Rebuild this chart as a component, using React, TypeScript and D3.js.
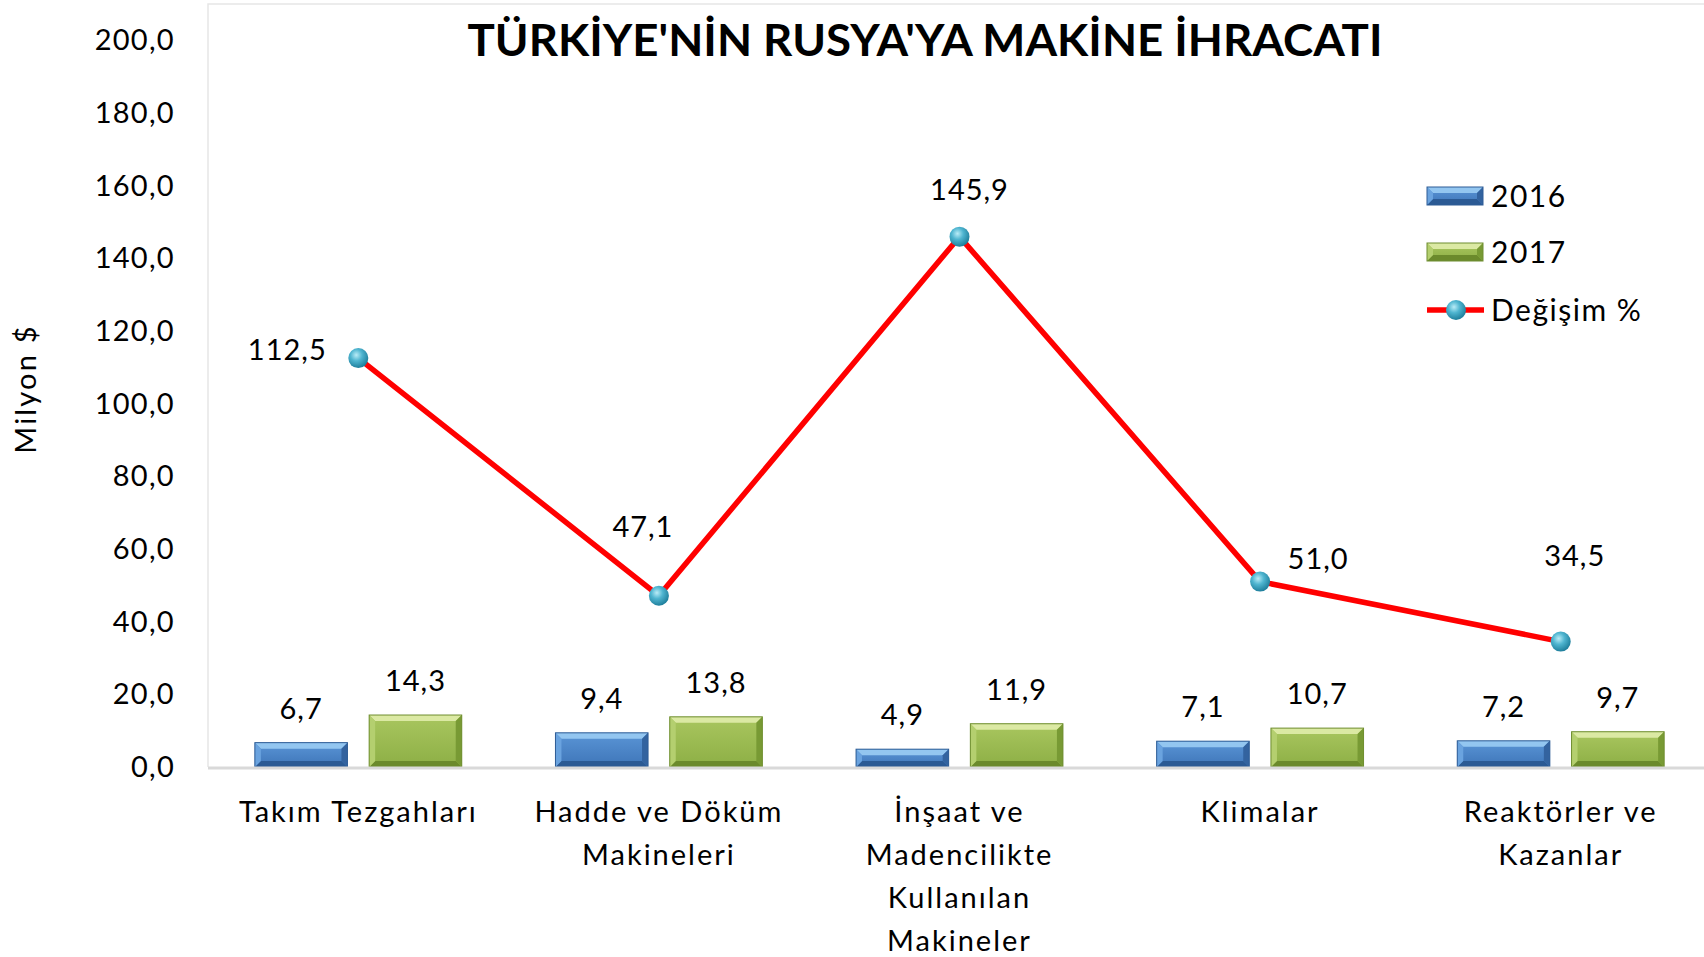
import { useEffect, useRef } from 'react';
import * as d3 from 'd3';

const categories = ['Takım Tezgahları', 'Hadde ve Döküm Makineleri', 'İnşaat ve Madencilikte Kullanılan Makineler', 'Klimalar', 'Reaktörler ve Kazanlar'];
const categoryLines = [
  ['Takım Tezgahları'],
  ['Hadde ve Döküm', 'Makineleri'],
  ['İnşaat ve', 'Madencilikte', 'Kullanılan', 'Makineler'],
  ['Klimalar'],
  ['Reaktörler ve', 'Kazanlar'],
];
const series = ['2016', '2017'];
const values2016 = [6.7, 9.4, 4.9, 7.1, 7.2];
const values2017 = [14.3, 13.8, 11.9, 10.7, 9.7];
const changePct = [112.5, 47.1, 145.9, 51.0, 34.5];
const yTicks = [0, 20, 40, 60, 80, 100, 120, 140, 160, 180, 200];

// label nudges for the line values (px from the point)
const lineLabelOffsets = [[-71, -8], [-16, -69], [10, -47], [58, -23], [14, -86]];

const W = 1704;
const H = 957;
const FONT = 'Lato, "Open Sans", sans-serif';
const fmt = (v: number) => v.toFixed(1).replace('.', ',');

const palette: Record<string, { face: [string, string]; top: string; bottom: string; left: string; right: string; stroke: string }> = {
  '2016': { face: ['#5a95d6', '#3e75b8'], top: '#93c6f0', bottom: '#2b5a94', left: '#6aa3df', right: '#33639f', stroke: '#2e5d96' },
  '2017': { face: ['#a9c65f', '#8daf45'], top: '#dbe9a3', bottom: '#6b8a2c', left: '#b4cf6f', right: '#789a34', stroke: '#6f8e30' },
};

const App = () => {
  const svgRef = useRef<SVGSVGElement | null>(null);

  useEffect(() => {
    document.body.style.margin = '0';
    const svg = d3.select(svgRef.current);
    svg.selectAll('*').remove();

    const left = 208;
    const right = left + 5 * 300.6;
    const bottom = 767;
    const top = 40;

    const x = d3.scaleBand<string>().domain(categories).range([left, right]).padding(0);
    const xs = d3.scaleBand<string>().domain(series).range([0, x.bandwidth()]).paddingInner(0.19).paddingOuter(0.41);
    const y = d3.scaleLinear().domain([0, 200]).range([bottom, top]);

    const defs = svg.append('defs');
    series.forEach(s => {
      const g = defs.append('linearGradient').attr('id', `face${s}`).attr('x1', 0).attr('y1', 0).attr('x2', 0).attr('y2', 1);
      g.append('stop').attr('offset', '0%').attr('stop-color', palette[s].face[0]);
      g.append('stop').attr('offset', '100%').attr('stop-color', palette[s].face[1]);
    });
    const rg = defs.append('radialGradient').attr('id', 'marker').attr('cx', '40%').attr('cy', '35%').attr('r', '65%');
    rg.append('stop').attr('offset', '0%').attr('stop-color', '#b9ecf7');
    rg.append('stop').attr('offset', '45%').attr('stop-color', '#4fb5d0');
    rg.append('stop').attr('offset', '100%').attr('stop-color', '#1f7f9c');

    // plot area frame
    svg.append('path')
      .attr('d', `M${left},${bottom}V4H${W}`)
      .attr('fill', 'none').attr('stroke', '#e6e6e6').attr('stroke-width', 1.5);

    // y axis labels
    svg.append('g').selectAll('text').data(yTicks).enter().append('text')
      .attr('x', 175).attr('y', d => y(d)).attr('dy', '0.35em')
      .attr('text-anchor', 'end').attr('font-family', FONT).attr('font-size', 29).attr('letter-spacing', 1.3).attr('fill', '#000')
      .text(d => fmt(d));

    svg.append('text')
      .attr('transform', `translate(36,389) rotate(-90)`)
      .attr('text-anchor', 'middle').attr('font-family', FONT).attr('font-size', 29).attr('letter-spacing', 2.2).attr('fill', '#000')
      .text('Milyon $');

    // bevelled bars
    const drawBar = (g: any, bx: number, by: number, bw: number, bh: number, s: string) => {
      const p = palette[s];
      const b = Math.min(6, bh / 3);
      g.append('rect').attr('x', bx).attr('y', by).attr('width', bw).attr('height', bh).attr('fill', `url(#face${s})`);
      const poly = (pts: number[][], fill: string) =>
        g.append('polygon').attr('points', pts.map(q => q.join(',')).join(' ')).attr('fill', fill);
      poly([[bx, by], [bx + bw, by], [bx + bw - b, by + b], [bx + b, by + b]], p.top);
      poly([[bx, by + bh], [bx + bw, by + bh], [bx + bw - b, by + bh - b], [bx + b, by + bh - b]], p.bottom);
      poly([[bx, by], [bx + b, by + b], [bx + b, by + bh - b], [bx, by + bh]], p.left);
      poly([[bx + bw, by], [bx + bw - b, by + b], [bx + bw - b, by + bh - b], [bx + bw, by + bh]], p.right);
      g.append('rect').attr('x', bx).attr('y', by).attr('width', bw).attr('height', bh)
        .attr('fill', 'none').attr('stroke', p.stroke).attr('stroke-width', 1);
    };

    const barsG = svg.append('g');
    const allBars = [values2016, values2017];
    categories.forEach((c, i) => {
      series.forEach((s, j) => {
        const v = allBars[j][i];
        const bx = (x(c) as number) + (xs(s) as number);
        drawBar(barsG, bx, y(v), xs.bandwidth(), bottom - y(v), s);
        barsG.append('text')
          .attr('x', bx + xs.bandwidth() / 2).attr('y', y(v) - 24)
          .attr('text-anchor', 'middle').attr('font-family', FONT).attr('font-size', 29).attr('letter-spacing', 1).attr('fill', '#000')
          .text(fmt(v));
      });
    });

    // baseline
    svg.append('line')
      .attr('x1', left).attr('x2', W).attr('y1', bottom + 1).attr('y2', bottom + 1)
      .attr('stroke', '#d9d9d9').attr('stroke-width', 3);

    // category labels
    const catG = svg.append('g');
    categories.forEach((c, i) => {
      const cx = (x(c) as number) + x.bandwidth() / 2;
      const t = catG.append('text')
        .attr('x', cx).attr('y', 822)
        .attr('text-anchor', 'middle').attr('font-family', FONT).attr('font-size', 29).attr('letter-spacing', 2)
        .attr('fill', '#000');
      categoryLines[i].forEach((ln, k) => {
        t.append('tspan').attr('x', cx).attr('dy', k === 0 ? 0 : 43).text(ln);
      });
    });

    // change line
    const pts = categories.map((c, i) => [(x(c) as number) + x.bandwidth() / 2, y(changePct[i])] as [number, number]);
    svg.append('path')
      .attr('d', d3.line()(pts))
      .attr('fill', 'none').attr('stroke', '#ff0000').attr('stroke-width', 5.5).attr('stroke-linejoin', 'round');
    svg.append('g').selectAll('circle').data(pts).enter().append('circle')
      .attr('cx', d => d[0]).attr('cy', d => d[1]).attr('r', 10)
      .attr('fill', 'url(#marker)');
    svg.append('g').selectAll('text').data(pts).enter().append('text')
      .attr('x', (d, i) => d[0] + lineLabelOffsets[i][0])
      .attr('y', (d, i) => d[1] + lineLabelOffsets[i][1])
      .attr('dy', '0.35em').attr('text-anchor', 'middle')
      .attr('font-family', FONT).attr('font-size', 29).attr('letter-spacing', 1).attr('fill', '#000')
      .text((d, i) => fmt(changePct[i]));

    // title
    svg.append('text')
      .attr('x', 925).attr('y', 56)
      .attr('text-anchor', 'middle').attr('font-family', FONT).attr('font-weight', 'bold')
      .attr('font-size', 44).attr('fill', '#000')
      .attr('textLength', 915).attr('lengthAdjust', 'spacingAndGlyphs')
      .text("TÜRKİYE'NİN RUSYA'YA MAKİNE İHRACATI");

    // legend
    const lg = svg.append('g');
    series.forEach((s, j) => {
      const ly = 196 + j * 56;
      drawBar(lg, 1427, ly - 9, 56, 18, s);
      lg.append('text').attr('x', 1491).attr('y', ly).attr('dy', '0.35em')
        .attr('font-family', FONT).attr('font-size', 30).attr('letter-spacing', 1.5).attr('fill', '#000').text(s);
    });
    lg.append('line').attr('x1', 1427).attr('x2', 1484).attr('y1', 310).attr('y2', 310)
      .attr('stroke', '#ff0000').attr('stroke-width', 5.5);
    lg.append('circle').attr('cx', 1456).attr('cy', 310).attr('r', 10).attr('fill', 'url(#marker)');
    lg.append('text').attr('x', 1491).attr('y', 310).attr('dy', '0.35em')
      .attr('font-family', FONT).attr('font-size', 30).attr('letter-spacing', 1.5).attr('fill', '#000').text('Değişim %');
  }, []);

  return <svg ref={svgRef} width={W} height={H} style={{ display: 'block', background: '#fff' }} />;
};

export default App;
